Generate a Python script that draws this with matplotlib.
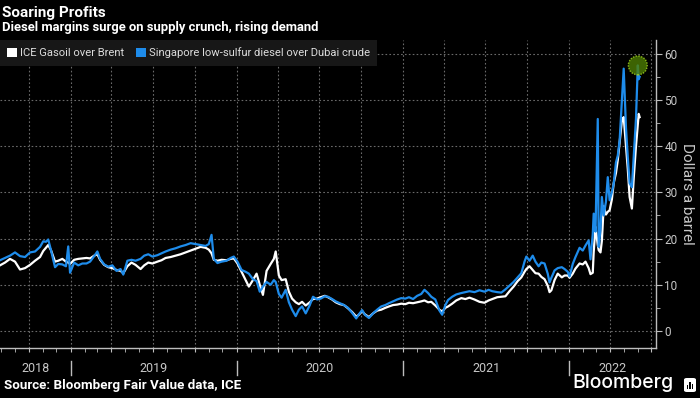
import matplotlib
matplotlib.use("Agg")
import matplotlib.pyplot as plt
import matplotlib.dates as mdates
import matplotlib.transforms as mtransforms
from matplotlib.patches import Patch, FancyBboxPatch, Rectangle
import pandas as pd

# readings, $/bbl
dates = [
    "2018-07-30", "2018-08-10", "2018-08-21", "2018-09-01", "2018-09-12", "2018-09-23",
    "2018-10-04", "2018-10-15", "2018-10-26", "2018-11-02", "2018-11-08", "2018-11-13",
    "2018-11-19", "2018-11-28", "2018-12-05", "2018-12-14", "2018-12-22", "2018-12-27",
    "2018-12-31", "2019-01-09", "2019-01-18", "2019-01-27", "2019-02-05", "2019-02-13",
    "2019-02-22", "2019-03-01", "2019-03-07", "2019-03-16", "2019-03-25", "2019-04-03",
    "2019-04-12", "2019-04-21", "2019-04-27", "2019-05-06", "2019-05-15", "2019-05-24",
    "2019-06-04", "2019-06-12", "2019-06-21", "2019-06-30", "2019-07-11", "2019-07-20",
    "2019-07-29", "2019-08-09", "2019-08-20", "2019-08-31", "2019-09-11", "2019-09-22",
    "2019-10-03", "2019-10-14", "2019-10-25", "2019-11-01", "2019-11-07", "2019-11-12",
    "2019-11-20", "2019-11-29", "2019-12-10", "2019-12-19", "2019-12-26", "2020-01-03",
    "2020-01-12", "2020-01-21", "2020-01-28", "2020-02-06", "2020-02-14", "2020-02-21",
    "2020-02-28", "2020-03-07", "2020-03-16", "2020-03-23", "2020-03-27", "2020-04-03",
    "2020-04-09", "2020-04-18", "2020-04-25", "2020-05-02", "2020-05-10", "2020-05-17",
    "2020-05-24", "2020-06-01", "2020-06-10", "2020-06-17", "2020-06-26", "2020-07-04",
    "2020-07-13", "2020-07-20", "2020-07-29", "2020-08-06", "2020-08-15", "2020-08-24",
    "2020-09-02", "2020-09-11", "2020-09-20", "2020-09-26", "2020-10-03", "2020-10-09",
    "2020-10-18", "2020-10-27", "2020-11-05", "2020-11-14", "2020-11-23", "2020-12-01",
    "2020-12-10", "2020-12-19", "2020-12-28", "2021-01-06", "2021-01-14", "2021-01-23",
    "2021-02-01", "2021-02-10", "2021-02-17", "2021-02-25", "2021-03-04", "2021-03-13",
    "2021-03-22", "2021-03-28", "2021-04-04", "2021-04-10", "2021-04-19", "2021-04-28",
    "2021-05-09", "2021-05-18", "2021-05-27", "2021-06-07", "2021-06-18", "2021-06-29",
    "2021-07-08", "2021-07-16", "2021-07-27", "2021-08-05", "2021-08-14", "2021-08-23",
    "2021-09-01", "2021-09-10", "2021-09-18", "2021-09-25", "2021-09-29", "2021-10-06",
    "2021-10-13", "2021-10-19", "2021-10-26", "2021-11-01", "2021-11-08", "2021-11-15",
    "2021-11-19", "2021-11-23", "2021-11-30", "2021-12-07", "2021-12-16", "2021-12-22",
    "2021-12-29", "2022-01-02", "2022-01-09", "2022-01-15", "2022-01-24", "2022-01-31",
    "2022-02-06", "2022-02-13", "2022-02-17", "2022-02-22", "2022-02-24", "2022-02-28",
    "2022-03-05", "2022-03-07", "2022-03-11", "2022-03-14", "2022-03-18", "2022-03-23",
    "2022-03-27", "2022-03-31", "2022-04-05", "2022-04-09", "2022-04-14", "2022-04-18",
    "2022-04-22", "2022-04-27", "2022-05-01", "2022-05-06", "2022-05-10", "2022-05-14",
    "2022-05-19", "2022-05-23", "2022-05-28", "2022-06-01", "2022-06-03", "2022-06-05",
]

ice_gasoil = [
    14.2, 14.8, 15.6, 15.0, 13.3, 13.6, 14.3, 15.2, 16.0, 17.3, 18.0, 18.6,
    17.5, 15.0, 15.2, 15.6, 15.0, 14.8, 14.5, 15.4, 15.6, 15.7, 15.8, 15.7,
    16.3, 16.6, 15.4, 14.3, 13.8, 13.6, 13.2, 13.0, 12.5, 14.0, 14.8, 14.3,
    13.4, 14.2, 14.8, 14.6, 15.0, 15.3, 15.8, 16.0, 16.3, 16.6, 17.0, 17.4,
    17.8, 18.2, 18.0, 17.6, 16.8, 15.4, 15.2, 15.4, 15.3, 15.6, 15.7, 14.6,
    12.8, 11.0, 9.6, 11.0, 12.4, 10.0, 7.8, 13.0, 14.5, 15.6, 17.2, 12.0,
    11.0, 11.2, 8.5, 7.0, 6.2, 5.8, 6.3, 5.5, 6.2, 6.9, 7.0, 7.3,
    7.6, 7.3, 6.8, 6.2, 5.8, 5.6, 4.9, 4.1, 3.1, 3.5, 4.3, 3.6,
    3.0, 3.8, 4.4, 4.6, 5.0, 5.3, 5.6, 5.7, 5.9, 5.8, 6.1, 6.0,
    6.2, 6.4, 6.6, 6.2, 6.3, 5.5, 4.6, 4.2, 5.0, 5.3, 5.9, 6.6,
    7.1, 6.9, 7.2, 6.8, 6.3, 6.1, 6.6, 6.9, 7.3, 7.4, 7.5, 8.6,
    9.6, 10.8, 11.6, 12.8, 13.4, 14.0, 13.2, 12.5, 12.4, 11.7, 11.2, 9.8,
    8.4, 8.8, 11.0, 12.4, 11.6, 12.0, 12.0, 11.5, 12.4, 13.5, 14.6, 14.4,
    15.0, 13.6, 12.3, 12.6, 17.0, 22.5, 18.6, 17.5, 17.0, 19.5, 27.0, 25.2,
    25.8, 26.1, 28.5, 32.0, 34.2, 37.0, 40.8, 45.5, 46.3, 40.0, 35.0, 29.0,
    26.5, 33.0, 40.0, 44.8, 47.0, 46.3,
]

singapore_diesel = [
    15.3, 15.8, 16.3, 17.0, 16.2, 16.0, 17.0, 17.2, 18.2, 19.4, 19.3, 19.8,
    17.5, 13.8, 14.5, 14.4, 14.0, 18.3, 12.6, 14.8, 14.2, 14.6, 14.6, 15.0,
    16.2, 17.2, 15.6, 14.4, 13.9, 14.2, 13.0, 13.4, 12.2, 15.2, 15.4, 15.2,
    15.6, 16.3, 16.6, 16.1, 16.4, 16.8, 17.2, 17.6, 17.9, 18.3, 18.6, 19.0,
    18.8, 18.6, 18.4, 18.8, 20.8, 15.6, 14.7, 15.0, 15.2, 15.8, 16.1, 15.0,
    13.2, 12.8, 12.4, 11.2, 10.8, 8.5, 9.6, 10.6, 10.0, 11.0, 10.6, 8.0,
    7.2, 8.9, 6.2, 4.6, 3.2, 4.6, 5.3, 3.8, 5.6, 7.4, 6.8, 7.0,
    7.5, 7.4, 6.9, 6.4, 6.0, 5.6, 5.0, 3.9, 2.7, 3.6, 4.5, 3.5,
    2.8, 3.8, 4.6, 5.3, 5.6, 6.0, 6.4, 6.8, 7.1, 7.0, 7.3, 6.9,
    7.6, 8.0, 8.9, 8.2, 7.4, 6.8, 4.4, 3.5, 5.6, 6.7, 7.4, 7.9,
    8.2, 8.4, 8.6, 8.4, 8.8, 8.5, 8.9, 8.6, 8.4, 8.3, 9.0, 9.8,
    10.6, 11.6, 12.5, 15.0, 16.1, 15.2, 16.3, 15.0, 14.0, 14.8, 14.6, 12.4,
    10.5, 11.5, 13.1, 13.6, 13.8, 13.4, 12.8, 11.8, 14.5, 16.0, 18.0, 17.4,
    18.5, 19.6, 15.5, 21.0, 25.4, 21.5, 45.9, 18.2, 22.0, 29.0, 25.0, 28.0,
    33.3, 28.3, 30.0, 31.9, 36.5, 38.0, 41.2, 50.0, 56.8, 44.0, 37.6, 32.0,
    31.1, 37.6, 46.0, 57.5, 54.5, 55.0,
]

highlight_date = "2022-06-01"
highlight_value = 57.5

y_ticks = [0, 10, 20, 30, 40, 50, 60]
years = [2018, 2019, 2020, 2021, 2022]

x_start = pd.Timestamp("2018-07-30")
x_end = pd.Timestamp("2022-07-11")

font = ["Roboto", "DejaVu Sans"]
text_grey = "#c8c8c8"
blue = "#1e8ceb"

dates = pd.to_datetime(dates)

fig = plt.figure(figsize=(7.0, 3.98), dpi=100, facecolor="black")
ax = fig.add_axes([0.0, 1 - 348 / 398, 656 / 700, 308 / 398])
ax.set_facecolor("black")

ax.plot(dates, ice_gasoil, color="white", lw=1.6, zorder=3)
ax.plot(dates, singapore_diesel, color=blue, lw=1.6, zorder=4)
ax.scatter([pd.Timestamp(highlight_date)], [highlight_value], s=185,
           facecolor="#4d7d05", edgecolor="#a6d81e", linewidths=1.0,
           linestyles=(0, (1, 1)), alpha=0.8, zorder=5)

ax.set_xlim(x_start, x_end)
ax.set_ylim(-3.7, 63.0)

# axes: only right and bottom
for side in ["top", "left"]:
    ax.spines[side].set_visible(False)
for side in ["right", "bottom"]:
    ax.spines[side].set_color("#bdbdbd")
    ax.spines[side].set_linewidth(1.0)

ax.yaxis.tick_right()
ax.set_yticks(y_ticks)
ax.yaxis.set_minor_locator(matplotlib.ticker.MultipleLocator(5))
ax.tick_params(axis="y", which="both", colors="#bdbdbd", labelcolor=text_grey,
               labelsize=8.5, pad=2, direction="out")
ax.tick_params(axis="y", which="major", length=4)
ax.tick_params(axis="y", which="minor", length=3)
for lab in ax.get_yticklabels():
    lab.set_family(font)

ax.xaxis.set_major_locator(mdates.MonthLocator(bymonth=[1, 4, 7, 10]))
ax.xaxis.set_minor_locator(mdates.MonthLocator())
ax.tick_params(axis="x", which="both", colors="#bdbdbd", length=3,
               direction="out", labelbottom=False)

ax.grid(True, which="major", color="#6a6a6a", linestyle=(0, (1.5, 2)), lw=0.8)
ax.set_axisbelow(True)

ax.yaxis.set_label_position("right")
ax.set_ylabel("Dollars a barrel", rotation=270, color=text_grey, fontsize=11,
              family=font, labelpad=12)

# year labels under the axis
trans = mtransforms.blended_transform_factory(ax.transData, ax.transAxes)
for yr in years:
    left = max(pd.Timestamp(f"{yr}-01-01"), x_start)
    right = min(pd.Timestamp(f"{yr + 1}-01-01"), x_end)
    mid = left + (right - left) / 2
    ax.text(mid, -0.065, str(yr), transform=trans, ha="center", va="center",
            color=text_grey, fontsize=9, family=font)
    if pd.Timestamp(f"{yr}-01-01") > x_start:
        ax.plot([pd.Timestamp(f"{yr}-01-01")] * 2, [-0.042, -0.088], transform=trans,
                color="#bdbdbd", lw=1, clip_on=False)

handles = [Patch(facecolor="white", edgecolor="none", label="ICE Gasoil over Brent"),
           Patch(facecolor=blue, edgecolor="none",
                 label="Singapore low-sulfur diesel over Dubai crude")]
leg = ax.legend(handles=handles, loc="upper left", bbox_to_anchor=(0.0, 1.0),
                ncol=2, frameon=True, fancybox=False, borderaxespad=0,
                handlelength=0.9, handleheight=0.9, handletextpad=0.25,
                columnspacing=1.0, borderpad=0.65,
                prop={"family": font, "size": 8.1})
leg.get_frame().set_facecolor("#171717")
leg.get_frame().set_edgecolor("none")
leg.get_frame().set_alpha(1)
leg.set_zorder(10)
for t in leg.get_texts():
    t.set_color("#dcdcdc")

fig.text(0.003, 1 - 17 / 398, "Soaring Profits", color="white", fontsize=11,
         fontweight="bold", family=font, va="baseline")
fig.text(0.003, 1 - 31 / 398, "Diesel margins surge on supply crunch, rising demand",
         color="white", fontsize=9.4, fontweight="bold", family=font, va="baseline")
fig.text(0.006, 1 - 386 / 398, "Source: Bloomberg Fair Value data, ICE", color="white",
         fontsize=9.6, fontweight="bold", family=font, va="center")

# logo
fig.text(674 / 700, 1 - 383 / 398, "Bloomberg", color="white", fontsize=14,
         family=["Inter", "DejaVu Sans"], fontweight="medium", ha="right", va="center")
icon = FancyBboxPatch((684 / 700, 1 - 392 / 398), 12 / 700, 14 / 398,
                      boxstyle="round,pad=0,rounding_size=0.004",
                      transform=fig.transFigure, facecolor="white", edgecolor="none")
fig.patches.append(icon)
for i, h in enumerate([4, 7, 5]):
    fig.patches.append(Rectangle(((687 + 2.3 * i) / 700, 1 - 389 / 398), 1.4 / 700, h / 398,
                                 transform=fig.transFigure, facecolor="black"))

fig.savefig("out.png", dpi=100, facecolor="black")
